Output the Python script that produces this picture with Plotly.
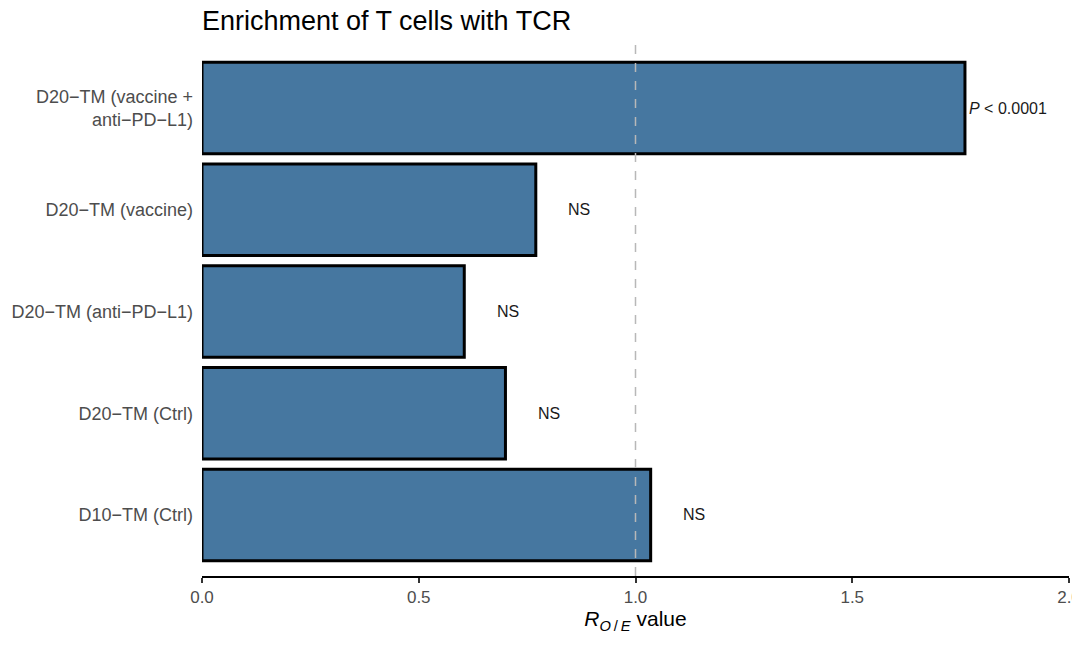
import plotly.graph_objects as go

categories = [
    "D20\u2212TM (vaccine +<br>anti\u2212PD\u2212L1)",
    "D20\u2212TM (vaccine)",
    "D20\u2212TM (anti\u2212PD\u2212L1)",
    "D20\u2212TM (Ctrl)",
    "D10\u2212TM (Ctrl)",
]
ro_e_values = [1.76, 0.77, 0.605, 0.70, 1.035]
labels = ["<i>P</i> < 0.0001", "NS", "NS", "NS", "NS"]
x_ticks = [0.0, 0.5, 1.0, 1.5, 2.0]
x_tick_text = ["0.0", "0.5", "1.0", "1.5", "2.0"]

FONT = "Liberation Sans, Arial, sans-serif"

fig = go.Figure()
fig.add_trace(go.Bar(
    x=ro_e_values,
    y=categories,
    orientation="h",
    marker=dict(color="#4677a0", line=dict(color="black", width=3)),
    hoverinfo="skip",
))

for cat, val, lab in zip(categories, ro_e_values, labels):
    if lab.startswith("<i>P"):
        fig.add_annotation(x=val, y=cat, text=lab, showarrow=False,
                           xanchor="left", xshift=2,
                           font=dict(family=FONT, size=16, color="#1a1a1a"))
    else:
        fig.add_annotation(x=val + 0.1, y=cat, text=lab, showarrow=False,
                           xanchor="center",
                           font=dict(family=FONT, size=16, color="#1a1a1a"))

fig.add_shape(type="line", x0=1, x1=1, xref="x", y0=0, y1=1.006, yref="paper",
              line=dict(color="#b8b8b8", width=1.5, dash="dash"), layer="above")

fig.update_layout(
    width=1072, height=638,
    margin=dict(l=194, r=11, t=39, b=70, autoexpand=False),
    paper_bgcolor="white", plot_bgcolor="white",
    showlegend=False,
    bargap=0.1,
    font=dict(family=FONT),
    title=dict(text="Enrichment of T cells with TCR", x=0, xref="paper",
               xanchor="left", y=0.981, yanchor="middle",
               font=dict(family=FONT, size=27, color="black")),
    xaxis=dict(range=[0, 2], tickvals=x_ticks, ticktext=x_tick_text,
               showgrid=False, zeroline=False, automargin=False,
               showline=True, linecolor="black", linewidth=2,
               ticks="outside", ticklen=5, tickwidth=2, tickcolor="#333333",
               ticklabeloverflow="allow",
               tickfont=dict(family=FONT, size=17, color="#4d4d4d"),
               title=dict(text="<i>R</i><sub><i>O</i>\u2009/\u2009<i>E</i></sub> value",
                          standoff=3,
                          font=dict(family=FONT, size=21, color="black"))),
    yaxis=dict(categoryorder="array", categoryarray=categories,
               range=[4.6, -0.6], showgrid=False, zeroline=False,
               automargin=False,
               showline=False, ticks="", ticklabelstandoff=8,
               tickfont=dict(family=FONT, size=18, color="#4d4d4d")),
)

fig.write_html("out.html")
